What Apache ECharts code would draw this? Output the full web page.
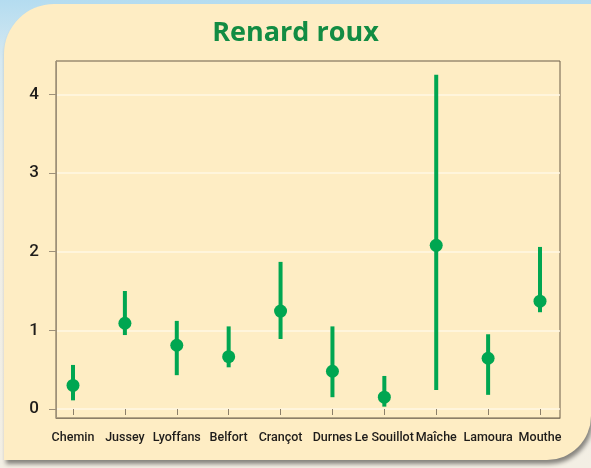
<!DOCTYPE html>
<html>
<head>
<meta charset="utf-8">
<script src="https://cdn.jsdelivr.net/npm/echarts@6/dist/echarts.min.js"></script>
<style>
  html, body { margin: 0; padding: 0; width: 591px; height: 468px; overflow: hidden; }
  body { background: linear-gradient(to bottom, #b4dcf0 0px, #d6e9f1 60px, #eeeee8 200px, #f3efe4 468px); position: relative; }
  #card { position: absolute; left: 4px; top: 4px; width: 587px; height: 456px; background: #feedc4;
          border-radius: 50px 0 44px 0; box-shadow: 2px 4px 4px rgba(0,0,0,0.45); }
  #chart { position: absolute; left: 0; top: 0; width: 591px; height: 468px; }
</style>
</head>
<body>
<div id="card"></div>
<div id="chart"></div>
<script>
  var sites = ['Chemin', 'Jussey', 'Lyoffans', 'Belfort', 'Crançot', 'Durnes', 'Le Souillot', 'Maîche', 'Lamoura', 'Mouthe'];
  var means = [0.30, 1.09, 0.81, 0.665, 1.245, 0.48, 0.15, 2.08, 0.645, 1.37];
  var lows  = [0.11, 0.94, 0.43, 0.53, 0.89, 0.15, 0.03, 0.24, 0.18, 1.23];
  var highs = [0.56, 1.50, 1.12, 1.05, 1.87, 1.05, 0.42, 4.25, 0.95, 2.06];
  var yTicks = [0, 1, 2, 3, 4];

  var green = '#00a651';
  var labelFont = 'Roboto, sans-serif';

  var chart = echarts.init(document.getElementById('chart'), null, { renderer: 'canvas' });

  var ranges = sites.map(function(s, i) { return [i, lows[i], highs[i]]; });
  var points = sites.map(function(s, i) { return [i, means[i]]; });

  chart.setOption({
    animation: false,
    backgroundColor: 'transparent',
    title: {
      text: 'Renard roux',
      left: 'center',
      top: 15,
      textStyle: { fontFamily: '"Open Sans", sans-serif', fontWeight: 'bold', fontSize: 27, color: '#128c43' }
    },
    grid: [
      // frame
      { left: 56, right: 31, top: 61, bottom: 50, show: true, borderColor: '#6a5d49', borderWidth: 1, backgroundColor: 'transparent' },
      // y scale 0..4 across full width
      { left: 56, right: 31, top: 94.3, bottom: 59 },
      // data
      { left: 73, right: 51, top: 94.3, bottom: 59 }
    ],
    xAxis: [
      { gridIndex: 0, type: 'value', min: 0, max: 1, axisLine: { show: true, lineStyle: { color: '#8c7f69', width: 1 } },
        axisTick: { show: false }, axisLabel: { show: false }, splitLine: { show: false } },
      { gridIndex: 1, type: 'value', min: 0, max: 1, show: false },
      { gridIndex: 2, type: 'category', data: sites, boundaryGap: false, offset: 9,
        axisLine: { show: false },
        axisTick: { show: true, length: 6, alignWithLabel: true, interval: 0, lineStyle: { color: '#8c7f69' } },
        axisLabel: { interval: 0, margin: 13, fontSize: 12.5, fontWeight: 500, color: '#1e1c1a', fontFamily: labelFont },
        splitLine: { show: false } }
    ],
    yAxis: [
      { gridIndex: 0, type: 'value', min: 0, max: 1, axisLine: { show: true, lineStyle: { color: '#9d907a', width: 1 } },
        axisTick: { show: false }, axisLabel: { show: false }, splitLine: { show: false } },
      { gridIndex: 1, type: 'value', min: yTicks[0], max: yTicks[yTicks.length - 1], interval: 1,
        axisLine: { show: false },
        axisTick: { show: true, length: 7, lineStyle: { color: '#9d907a' } },
        axisLabel: { margin: 17, fontSize: 17, fontWeight: 500, color: '#1e1c1a', fontFamily: labelFont },
        splitLine: { show: true, lineStyle: { color: '#fff7e4', width: 1.5 } } },
      { gridIndex: 2, type: 'value', min: yTicks[0], max: yTicks[yTicks.length - 1], show: false }
    ],
    series: [
      {
        type: 'custom',
        xAxisIndex: 2,
        yAxisIndex: 2,
        clip: false,
        data: ranges,
        renderItem: function(params, api) {
          var lo = api.coord([api.value(0), api.value(1)]);
          var hi = api.coord([api.value(0), api.value(2)]);
          return {
            type: 'line',
            shape: { x1: lo[0], y1: lo[1], x2: hi[0], y2: hi[1] },
            style: { stroke: green, lineWidth: 4 }
          };
        }
      },
      {
        type: 'scatter',
        xAxisIndex: 2,
        yAxisIndex: 2,
        data: points,
        symbol: 'circle',
        symbolSize: 13,
        itemStyle: { color: green, opacity: 1 }
      }
    ]
  });
</script>
</body>
</html>
